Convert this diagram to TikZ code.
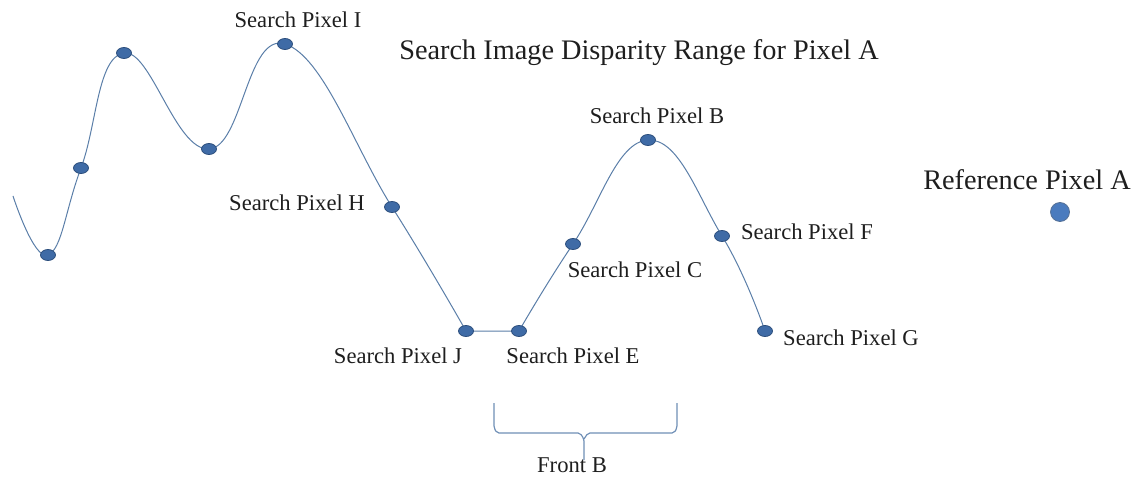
\documentclass[tikz,border=0pt]{standalone}
\usepackage{fontspec}
\setmainfont{Liberation Serif}
\definecolor{ink}{HTML}{1E1E1E}
\definecolor{wave}{HTML}{5A7EA8}
\definecolor{dotfill}{HTML}{3F6BA6}
\definecolor{dotline}{HTML}{2C4E7C}
\definecolor{reffill}{HTML}{4A7BBE}
\definecolor{brace}{HTML}{6F8FB6}
\begin{document}
\begin{tikzpicture}[x=1pt,y=1pt,text=ink,
  lbl/.style={font=\fontsize{22.6}{26}\selectfont,inner sep=0pt},
  big/.style={font=\fontsize{28.3}{33}\selectfont,inner sep=0pt}]
  \useasboundingbox (0,-481) rectangle (1137,0);
  \coordinate (s0) at (13,-196);
  \coordinate (p1) at (48,-255);
  \coordinate (p2) at (81,-168);
  \coordinate (p3) at (124,-53);
  \coordinate (p4) at (209,-149);
  \coordinate (pI) at (285,-44);
  \coordinate (pH) at (392,-207);
  \coordinate (pJ) at (466,-331);
  \coordinate (pE) at (519,-331);
  \coordinate (pC) at (573,-244);
  \coordinate (pB) at (648,-140);
  \coordinate (pF) at (722,-236);
  \coordinate (pG) at (765,-331);
  \draw[wave,line width=1pt]
    plot[smooth,tension=0.75] coordinates {(s0) (p1) (p2) (p3) (p4) (pI) (pH) (pJ)}
    -- (pE)
    plot[smooth,tension=0.75] coordinates {(pE) (pC) (pB) (pF) (pG)};
  \foreach \p in {p1,p2,p3,p4,pI,pH,pJ,pE,pC,pB,pF,pG}
    \filldraw[fill=dotfill,draw=dotline,line width=0.8pt] (\p) ellipse [x radius=7.5,y radius=5.5];
  \node[big] (title) at (639,-53) {Search Image Disparity Range for Pixel A};
  \node[big] (refA) at (1027,-180) {Reference Pixel A};
  \coordinate (refdot) at (1060,-212);
  \filldraw[fill=reffill,draw=dotline!80,line width=0.8pt] (refdot) circle (9.5);
  \node[lbl] (lI) at (298,-20) {Search Pixel I};
  \node[lbl] (lB) at (657,-116) {Search Pixel B};
  \node[lbl] (lH) at (297,-203) {Search Pixel H};
  \node[lbl] (lF) at (807,-232) {Search Pixel F};
  \node[lbl] (lC) at (635,-270) {Search Pixel C};
  \node[lbl] (lG) at (851,-338) {Search Pixel G};
  \node[lbl] (lJ) at (398,-356) {Search Pixel J};
  \node[lbl] (lE) at (573,-356) {Search Pixel E};
  \node[lbl,anchor=north] (front) at (572,-457) {Front B};
  \coordinate (tip) at (584,-460);
  \draw[brace,line width=1.2pt,rounded corners=2pt]
    (494,-403) -- (494,-428) -- (497,-433) -- (580,-433) -- (584,-439) -- (tip);
  \draw[brace,line width=1.2pt,rounded corners=2pt]
    (677,-403) -- (677,-428) -- (674,-433) -- (588,-433) -- (584,-439);
\end{tikzpicture}
\end{document}
